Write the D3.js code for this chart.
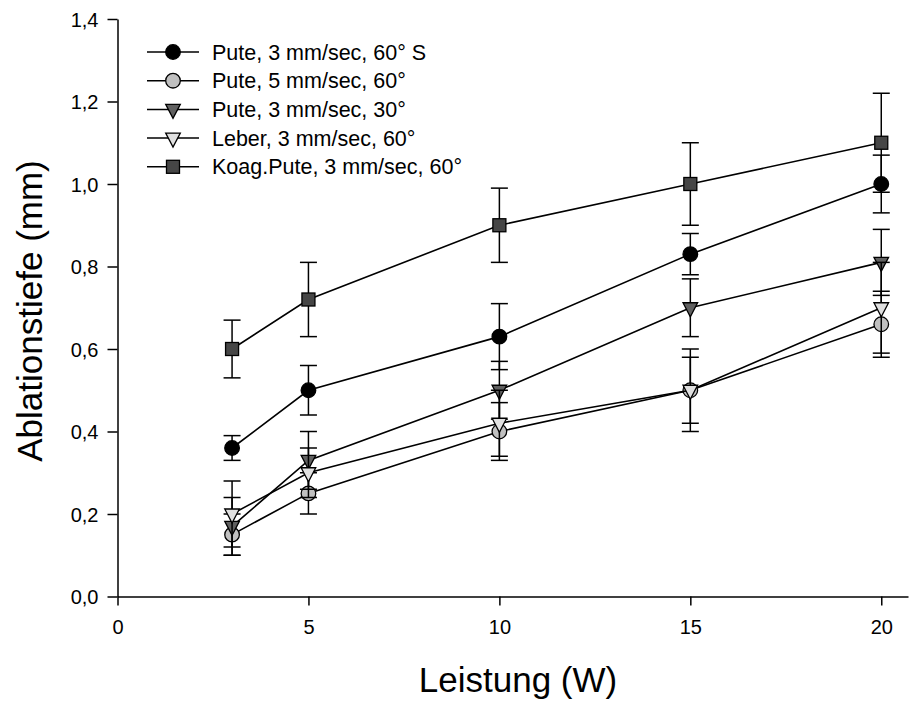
<!DOCTYPE html>
<html><head><meta charset="utf-8">
<script src="https://cdn.jsdelivr.net/npm/d3@7"></script>
<style>body{margin:0;background:#fff}svg{display:block}text{font-family:"Liberation Sans",Arial,sans-serif;fill:#000}</style>
</head><body>
<svg id="c" width="909" height="702"></svg>
<script>
const xValues = [3, 5, 10, 15, 20];
const seriesNames = ["Pute, 3 mm/sec, 60° S","Pute, 5 mm/sec, 60°","Pute, 3 mm/sec, 30°","Leber, 3 mm/sec, 60°","Koag.Pute, 3 mm/sec, 60°"];
const puteS = [0.36, 0.50, 0.63, 0.83, 1.00];
const puteSErr = [0.03, 0.06, 0.08, 0.05, 0.07];
const pute5 = [0.15, 0.25, 0.40, 0.50, 0.66];
const pute5Err = [0.05, 0.05, 0.07, 0.10, 0.08];
const pute30 = [0.17, 0.33, 0.50, 0.70, 0.81];
const pute30Err = [0.07, 0.07, 0.07, 0.07, 0.08];
const leber = [0.20, 0.30, 0.42, 0.50, 0.70];
const leberErr = [0.08, 0.06, 0.08, 0.08, 0.11];
const koag = [0.60, 0.72, 0.90, 1.00, 1.10];
const koagErr = [0.07, 0.09, 0.09, 0.10, 0.12];
const xTicks = [0, 5, 10, 15, 20];
const yTicks = [0, 0.2, 0.4, 0.6, 0.8, 1.0, 1.2, 1.4];
const yTickLabels = ["0,0","0,2","0,4","0,6","0,8","1,0","1,2","1,4"];

const styles = [
  {shape:"circle", fill:"#000000"},
  {shape:"circle", fill:"#c0c0c0"},
  {shape:"tri", fill:"#606060"},
  {shape:"tri", fill:"#e0e0e0"},
  {shape:"square", fill:"#464646"}
];
const values = [puteS, pute5, pute30, leber, koag];
const errs = [puteSErr, pute5Err, pute30Err, leberErr, koagErr];

const svg = d3.select("#c");
const x = d3.scaleLinear().domain([0, 20.7]).range([117.5, 908]);
const y = d3.scaleLinear().domain([0, 1.4]).range([596.5, 19]);

// axes
const xa = svg.append("g").attr("transform","translate(0,596.5)")
  .call(d3.axisBottom(x).tickValues(xTicks).tickSize(9).tickSizeOuter(0).tickPadding(14));
const ya = svg.append("g").attr("transform","translate(117.5,0)")
  .call(d3.axisLeft(y).tickValues(yTicks).tickFormat((d,i)=>yTickLabels[i]).tickSize(10).tickSizeOuter(0).tickPadding(9));
[xa, ya].forEach(a=>{
  a.selectAll("path,line").attr("stroke","#000").attr("stroke-width",1.5);
  a.selectAll("text").style("font-size","20px").style("font-family","'Liberation Sans',Arial,sans-serif").attr("fill","#000");
});
ya.selectAll("text").attr("dy","0.36em");
xa.selectAll("text").attr("dy","0.71em");

svg.append("text").attr("x",518).attr("y",692).attr("text-anchor","middle")
  .style("font-size","35px").text("Leistung (W)");
svg.append("text").attr("transform","translate(42,311) rotate(-90)").attr("text-anchor","middle")
  .style("font-size","35px").text("Ablationstiefe (mm)");

function marker(g, shape, fill, cx, cy){
  if(shape==="circle"){
    g.append("circle").attr("cx",cx).attr("cy",cy).attr("r",7.3).attr("fill",fill).attr("stroke","#000").attr("stroke-width",1.3);
  } else if(shape==="square"){
    g.append("rect").attr("x",cx-6.5).attr("y",cy-6.5).attr("width",13).attr("height",13).attr("fill",fill).attr("stroke","#000").attr("stroke-width",1.3);
  } else {
    const w=7.3, h1=5, h2=9;
    g.append("path").attr("d",`M${cx-w},${cy-h1}L${cx+w},${cy-h1}L${cx},${cy+h2}Z`).attr("fill",fill).attr("stroke","#000").attr("stroke-width",1.3);
  }
}

const line = d3.line().x(d=>x(d[0])).y(d=>y(d[1]));
values.forEach((vals, si)=>{
  const g = svg.append("g");
  const pts = xValues.map((xv,i)=>[xv, vals[i], errs[si][i]]);
  g.append("path").attr("d", line(pts)).attr("fill","none").attr("stroke","#000").attr("stroke-width",1.6);
  pts.forEach(p=>{
    const cx = x(p[0]), top = y(p[1]+p[2]), bot = y(p[1]-p[2]);
    g.append("line").attr("x1",cx).attr("x2",cx).attr("y1",top).attr("y2",bot).attr("stroke","#000").attr("stroke-width",1.5);
    [top, bot].forEach(yy=>g.append("line").attr("x1",cx-8.5).attr("x2",cx+8.5).attr("y1",yy).attr("y2",yy).attr("stroke","#000").attr("stroke-width",1.5));
  });
  pts.forEach(p=>marker(g, styles[si].shape, styles[si].fill, x(p[0]), y(p[1])));
});

// legend
const lg = svg.append("g");
seriesNames.forEach((name, i)=>{
  const cy = 52 + i*28.7;
  lg.append("line").attr("x1",147).attr("x2",199).attr("y1",cy).attr("y2",cy).attr("stroke","#000").attr("stroke-width",1.5);
  marker(lg, styles[i].shape, styles[i].fill, 173, cy);
  lg.append("text").attr("x",212).attr("y",cy+7.5).style("font-size","21.5px").text(name);
});
</script>
</body></html>
